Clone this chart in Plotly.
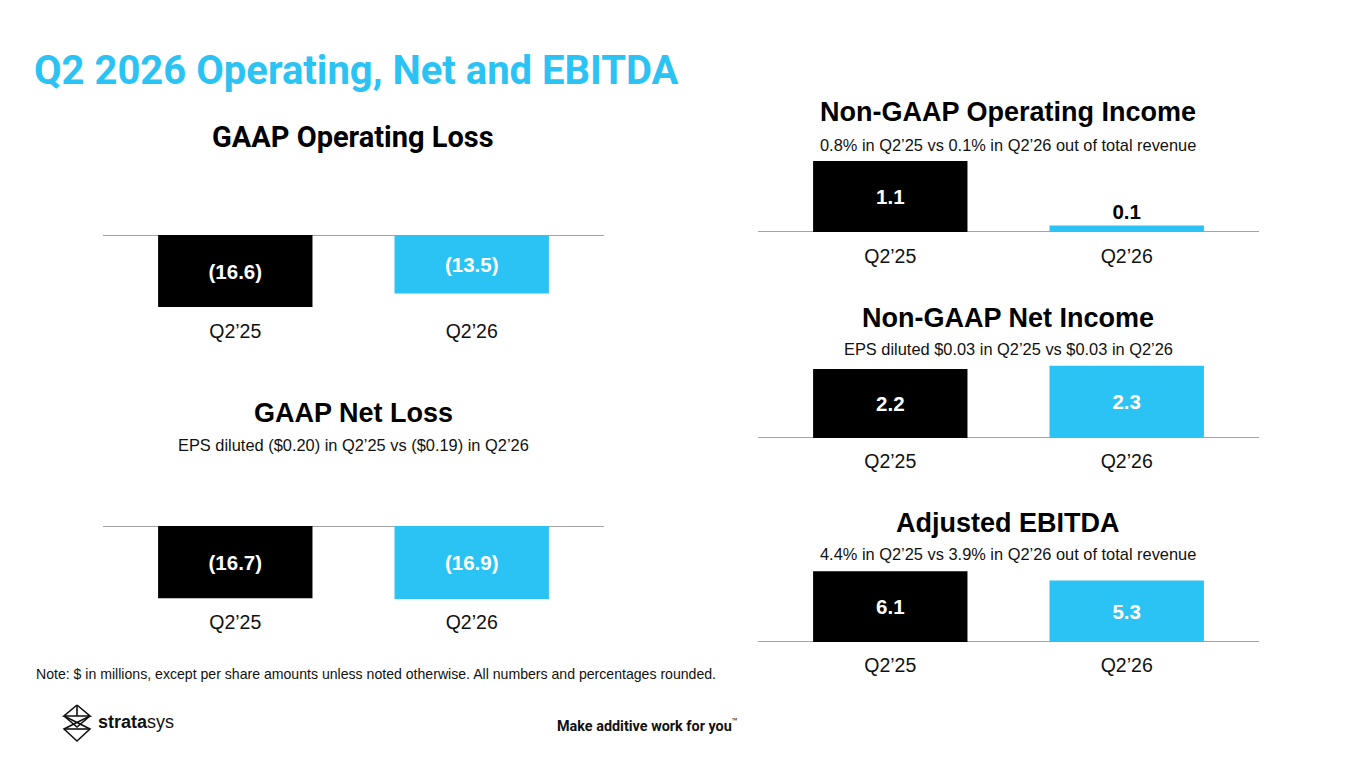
import plotly.graph_objects as go

W, H = 1365, 768

# ---- data ----
categories = ["Q2\u201925", "Q2\u201926"]
gaap_operating_loss = [-16.6, -13.5]
gaap_net_loss = [-16.7, -16.9]
nongaap_operating_income = [1.1, 0.1]
nongaap_net_income = [2.2, 2.3]
adjusted_ebitda = [6.1, 5.3]

panel_titles = ["GAAP Operating Loss", "GAAP Net Loss", "Non-GAAP Operating Income",
                "Non-GAAP Net Income", "Adjusted EBITDA"]
panel_subtitles = ["", "EPS diluted ($0.20) in Q2\u201925 vs ($0.19) in Q2\u201926",
                   "0.8% in Q2\u201925 vs 0.1% in Q2\u201926 out of total revenue",
                   "EPS diluted $0.03 in Q2\u201925 vs $0.03 in Q2\u201926",
                   "4.4% in Q2\u201925 vs 3.9% in Q2\u201926 out of total revenue"]

BLACK = "#000000"
BLUE = "#2BC3F3"
bar_colors = [BLACK, BLUE]
AXIS_GRAY = "#4a4a4a"
FONT = "Liberation Sans, Arial, sans-serif"


def px_x(x):
    return x / W


def px_y(y):
    return 1 - y / H


def fmt(v):
    return f"({abs(v):.1f})" if v < 0 else f"{v:.1f}"


# panel geometry in pixels: (values, x0, x1, top, bottom, yrange)
panels = [
    (gaap_operating_loss, 103, 604, 235, 315, [-18.43, 0]),
    (gaap_net_loss, 103, 604, 526, 606, [-18.5, 0]),
    (nongaap_operating_income, 758, 1259, 150, 232, [0, 1.27]),
    (nongaap_net_income, 758, 1259, 356, 438, [0, 2.61]),
    (adjusted_ebitda, 758, 1259, 560, 642, [0, 7.07]),
]
title_pos = [(353, 137, 353, None), (353, 413, 353, 445), (1008, 112, 1008, 145),
             (1008, 318, 1008, 349), (1008, 523, 1008, 554)]
label_standoff = [2, 2, 10, 9, 9]

fig = go.Figure()
layout = dict(
    width=W, height=H, margin=dict(l=0, r=0, t=0, b=0),
    paper_bgcolor="white", plot_bgcolor="white",
    showlegend=False, bargap=0.347,
    font=dict(family=FONT, color="black"),
)
shapes = []
annotations = []

for i, (vals, x0, x1, top, bottom, yr) in enumerate(panels):
    n = i + 1
    xa = "x" if n == 1 else f"x{n}"
    ya = "y" if n == 1 else f"y{n}"
    small = [abs(v) < 0.5 for v in vals]
    fig.add_trace(go.Bar(
        x=categories, y=vals, xaxis=xa, yaxis=ya,
        marker=dict(color=bar_colors, line=dict(width=0)),
        text=[fmt(v) for v in vals],
        textposition=["outside" if s else "inside" for s in small],
        insidetextanchor="middle",
        textfont=dict(family=FONT, size=20.5, weight="bold",
                      color=["black" if s else "white" for s in small]),
        cliponaxis=False, constraintext="none", hoverinfo="skip",
    ))
    layout["xaxis" if n == 1 else f"xaxis{n}"] = dict(
        domain=[px_x(x0), px_x(x1)], anchor=ya, type="category",
        range=[-0.5595, 1.5595], showgrid=False, zeroline=False, showline=False,
        ticks="", tickfont=dict(family=FONT, size=19.5, color="#111111"),
        ticklabelstandoff=label_standoff[i], fixedrange=True,
    )
    layout["yaxis" if n == 1 else f"yaxis{n}"] = dict(
        domain=[px_y(bottom), px_y(top)], anchor=xa, range=yr,
        showgrid=False, zeroline=False, showline=False, showticklabels=False,
        ticks="", fixedrange=True,
    )
    shapes.append(dict(type="line", xref=f"{xa} domain", yref=ya,
                       x0=0, x1=1, y0=0, y1=0, layer="below",
                       line=dict(color=AXIS_GRAY, width=1.2)))
    tx, ty, sx, sy = title_pos[i]
    if i == 0:
        tfont = dict(family="Liberation Sans Narrow, Roboto, sans-serif", size=29, color="black")
    else:
        tfont = dict(family=FONT, size=27, color="black")
    annotations.append(dict(text=f"<b>{panel_titles[i]}</b>", x=px_x(tx), y=px_y(ty),
                            xref="paper", yref="paper", showarrow=False,
                            xanchor="center", yanchor="middle", font=tfont))
    if sy is not None:
        annotations.append(dict(text=panel_subtitles[i], x=px_x(sx), y=px_y(sy),
                                xref="paper", yref="paper", showarrow=False,
                                xanchor="center", yanchor="middle",
                                font=dict(family=FONT, size=16.4, color="#111111")))

# main title
annotations.append(dict(text="<b>Q2 2026 Operating, Net and EBITDA</b>", x=px_x(32), y=px_y(70),
                        xref="paper", yref="paper", showarrow=False,
                        xanchor="left", yanchor="middle",
                        font=dict(family="Roboto, sans-serif", size=40, color=BLUE)))
# note
annotations.append(dict(text="Note: $ in millions, except per share amounts unless noted otherwise. All numbers and percentages rounded.",
                        x=px_x(34), y=px_y(674), xref="paper", yref="paper", showarrow=False,
                        xanchor="left", yanchor="middle",
                        font=dict(family=FONT, size=14.1, color="#111111")))
# tagline
annotations.append(dict(text="<b>Make additive work for you</b><sup>\u2122</sup>",
                        x=px_x(740), y=px_y(725), xref="paper", yref="paper", showarrow=False,
                        xanchor="right", yanchor="middle",
                        font=dict(family="Roboto, sans-serif", size=14.4, color="#111111")))
# logo text
annotations.append(dict(text="<b>strata</b>sys", x=px_x(96), y=px_y(722),
                        xref="paper", yref="paper", showarrow=False,
                        xanchor="left", yanchor="middle",
                        font=dict(family=FONT, size=18, color="#111111")))

# logo icon (decorative path in paper coordinates)
segs = [
    [(77, 705), (90, 716), (64, 716), (77, 705)],
    [(64, 716), (77, 727), (90, 716)],
    [(90, 716), (64, 729), (77, 741), (90, 729), (64, 716)],
    [(64, 729), (90, 729)],
    [(77, 705), (77, 716)],
]
for seg in segs:
    d = "M " + " L ".join(f"{px_x(x):.5f},{px_y(y):.5f}" for x, y in seg)
    shapes.append(dict(type="path", xref="paper", yref="paper", path=d,
                       line=dict(color="#111111", width=1.6)))

layout["shapes"] = shapes
layout["annotations"] = annotations
fig.update_layout(**layout)
fig.write_html("out.html", config={"displayModeBar": False},
               post_script="document.body.style.margin='0';")
